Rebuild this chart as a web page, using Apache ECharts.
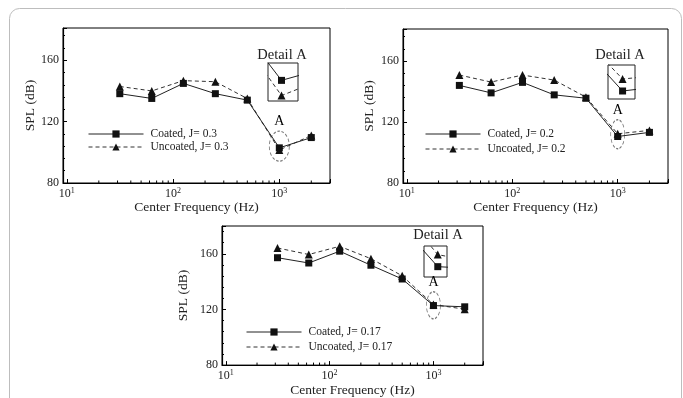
<!DOCTYPE html>
<html>
<head>
<meta charset="utf-8">
<script src="https://cdn.jsdelivr.net/npm/echarts@6/dist/echarts.min.js"></script>
<style>
  html, body { margin: 0; padding: 0; background: #fff; }
  #chart { width: 683px; height: 398px; }
</style>
</head>
<body>
<div id="chart"></div>
<script>
// octave-band centre frequencies (Hz)
var freqs = [31.5, 63, 125, 250, 500, 1000, 2000];

// SPL (dB)
var coated03 = [138.2, 135.1, 144.9, 138.2, 134.0, 102.9, 109.6];
var uncoated03 = [142.9, 140.0, 146.7, 146.0, 135.0, 101.5, 111.0];
var coated02 = [144.0, 139.1, 146.0, 137.8, 135.6, 110.5, 113.2];
var uncoated02 = [150.8, 146.2, 150.8, 147.5, 136.3, 112.3, 114.5];
var coated017 = [157.2, 153.4, 161.9, 151.8, 141.9, 122.8, 121.9];
var uncoated017 = [164.2, 159.5, 165.4, 156.5, 144.2, 123.5, 120.2];

// legend names
var coatedNames = ["Coated, J= 0.3", "Coated, J= 0.2", "Coated, J= 0.17"];
var uncoatedNames = ["Uncoated, J= 0.3", "Uncoated, J= 0.2", "Uncoated, J= 0.17"];

// axis ticks
var decades = [10, 100, 1000];
var minorFreqs = [20, 30, 40, 50, 60, 70, 80, 90, 200, 300, 400, 500, 600, 700, 800, 900, 2000, 3000];
var yTicks = [80, 120, 160];

// "A" circle centre (dB) at 1000 Hz
var detailY = [104, 112, 123];

var FONT = "'Liberation Serif', 'Times New Roman', serif";
var INK = "#111";

var panels = [
  {
    coated: coated03, uncoated: uncoated03,
    grid: { left: 63, top: 28, width: 267, height: 155 }, yMax: 181,
    inset: { left: 268, top: 63, width: 30, height: 38 },
    insetX: [964.5, 1045], insetY: [101, 104.5],
    legend: { left: 88, top: 128, itemGap: 1 },
    ellipse: [20, 30], yNameGap: 24, xNameGap: 10,
    detail: [282, 55]
  },
  {
    coated: coated02, uncoated: uncoated02,
    grid: { left: 403, top: 29, width: 265, height: 154 }, yMax: 181,
    inset: { left: 608, top: 65, width: 27, height: 34 },
    insetX: [936, 1058], insetY: [109.3, 114.4],
    legend: { left: 425, top: 128, itemGap: 3 },
    ellipse: [14, 29], yNameGap: 27, xNameGap: 10,
    detail: [620, 55]
  },
  {
    coated: coated017, uncoated: uncoated017,
    grid: { left: 222, top: 226, width: 261, height: 142 }, yMax: 180,
    inset: { left: 424, top: 246, width: 23, height: 31 },
    insetX: [968, 1022], insetY: [122.2, 124.0],
    legend: { left: 246, top: 326, itemGap: 3 },
    ellipse: [14, 27], yNameGap: 32, xNameGap: 12,
    detail: [438, 235]
  }
];

function pairs(vals) {
  return freqs.map(function (f, i) { return [f, vals[i]]; });
}

function decadeLabel(v) {
  for (var i = 0; i < decades.length; i++) {
    if (Math.abs(v - decades[i]) < 1e-6 * decades[i]) {
      return "{b|10}{s|" + Math.round(Math.log10(decades[i])) + "}";
    }
  }
  return "";
}

var grids = [], xAxes = [], yAxes = [], series = [], legends = [], texts = [];

panels.forEach(function (p, k) {
  var gi = grids.length;
  grids.push(Object.assign({ show: true, borderColor: "#000", borderWidth: 1, backgroundColor: "transparent" }, p.grid));
  xAxes.push({
    gridIndex: gi, type: "log", logBase: 10, min: 9.2, max: 3000,
    name: "Center Frequency (Hz)", nameLocation: "middle", nameGap: p.xNameGap,
    nameTextStyle: { fontFamily: FONT, fontSize: 13.5, color: "#222" },
    axisLine: { lineStyle: { color: "#000", width: 1.2 } },
    axisTick: { inside: true, length: 4, lineStyle: { color: "#000" } },
    splitLine: { show: false },
    axisLabel: {
      margin: 4, formatter: decadeLabel, showMinLabel: true,
      rich: {
        b: { fontFamily: FONT, fontSize: 12, color: "#222" },
        s: { fontFamily: FONT, fontSize: 8, color: "#222", verticalAlign: "top", padding: [0, 0, 6, 0] }
      }
    }
  });
  yAxes.push({
    gridIndex: gi, type: "value", min: yTicks[0], max: p.yMax, interval: 40,
    name: "SPL (dB)", nameLocation: "middle", nameGap: p.yNameGap, nameRotate: 90,
    nameTextStyle: { fontFamily: FONT, fontSize: 13.5, color: "#222" },
    axisLine: { show: true, lineStyle: { color: "#000", width: 1.2 } },
    axisTick: { show: true, inside: true, length: 4, lineStyle: { color: "#000" } },
    minorTick: { show: true, splitNumber: 5, length: 2, lineStyle: { color: "#000" } },
    splitLine: { show: false },
    axisLabel: { margin: 4, showMaxLabel: false, fontFamily: FONT, fontSize: 12, color: "#222" }
  });

  // inset "Detail A" grid
  var ii = grids.length;
  grids.push(Object.assign({ show: true, borderColor: "#222", borderWidth: 1, backgroundColor: "transparent" }, p.inset));
  xAxes.push({ gridIndex: ii, type: "log", min: p.insetX[0], max: p.insetX[1], show: false });
  yAxes.push({ gridIndex: ii, type: "value", min: p.insetY[0], max: p.insetY[1], show: false });

  [gi, ii].forEach(function (idx) {
    series.push({
      name: coatedNames[k], type: "line", xAxisIndex: idx, yAxisIndex: idx,
      data: pairs(p.coated), symbol: "rect", symbolSize: 7, clip: true,
      itemStyle: { color: INK }, lineStyle: { color: "#222", width: 1 }, z: 4
    });
    series.push({
      name: uncoatedNames[k], type: "line", xAxisIndex: idx, yAxisIndex: idx,
      data: pairs(p.uncoated), symbol: "triangle", symbolSize: 8, clip: true,
      itemStyle: { color: INK }, lineStyle: { color: "#333", width: 1, type: [4, 3] }, z: 3
    });
  });

  // dashed circle around the 1000 Hz point
  series.push({
    type: "scatter", xAxisIndex: gi, yAxisIndex: gi, silent: true, z: 2,
    data: [[freqs[5], detailY[k]]], symbol: "circle", symbolSize: p.ellipse,
    itemStyle: { color: "transparent", borderColor: "#555", borderWidth: 1, borderType: [3, 2] },
    label: { show: true, position: "top", distance: 2, formatter: "A", fontFamily: FONT, fontSize: 14, color: "#000", opacity: 1 }
  });

  // log minor ticks along the frequency axis
  series.push({
    type: "custom", xAxisIndex: gi, yAxisIndex: gi, silent: true, clip: false,
    data: minorFreqs.map(function (f) { return [f, yTicks[0]]; }),
    renderItem: function (params, api) {
      var pt = api.coord([api.value(0), api.value(1)]);
      return { type: "line", shape: { x1: pt[0], y1: pt[1], x2: pt[0], y2: pt[1] - 2.5 }, style: { stroke: "#000", lineWidth: 1 } };
    }
  });

  legends.push({
    orient: "vertical", left: p.legend.left, top: p.legend.top, itemGap: p.legend.itemGap,
    padding: 0, itemWidth: 55, itemHeight: 9, selectedMode: false,
    data: [coatedNames[k], uncoatedNames[k]],
    lineStyle: { width: 1 },
    textStyle: { fontFamily: FONT, fontSize: 11.5, color: "#222", padding: [0, 0, 0, 2] }
  });

  texts.push({
    type: "text", x: p.detail[0], y: p.detail[1],
    style: { text: "Detail A", fontFamily: FONT, fontSize: 14.5, fill: "#222", align: "center", verticalAlign: "middle" }
  });
});

var myChart = echarts.init(document.getElementById("chart"));
myChart.setOption({
  animation: false,
  backgroundColor: "#fff",
  grid: grids,
  xAxis: xAxes,
  yAxis: yAxes,
  legend: legends,
  series: series,
  graphic: [
    {
      type: "rect", silent: true, z: -1,
      shape: { x: 9.5, y: 8.5, width: 672, height: 420, r: 10 },
      style: { fill: "none", stroke: "#bdbdbd", lineWidth: 1 }
    }
  ].concat(texts)
});
window.addEventListener("resize", function () { myChart.resize(); });
</script>
</body>
</html>
